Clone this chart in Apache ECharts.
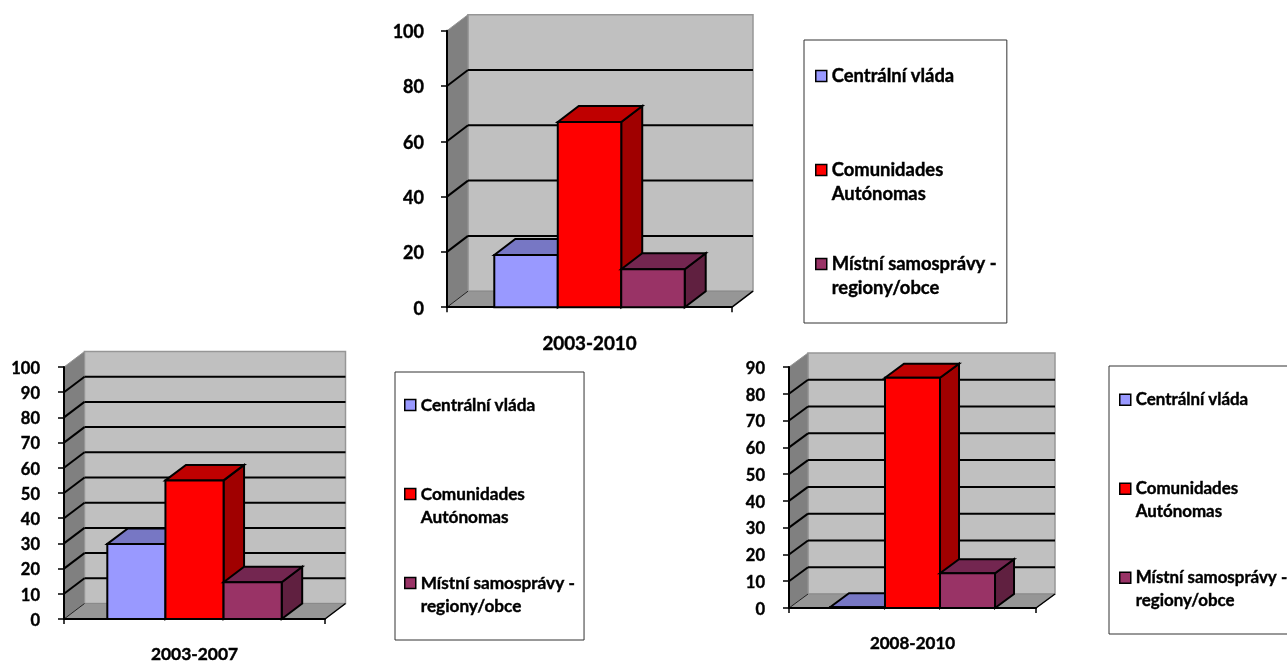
<!DOCTYPE html>
<html>
<head>
<meta charset="utf-8">
<style>
html, body { margin: 0; padding: 0; background: #fff; }
#main { width: 1287px; height: 661px; }
</style>
<script src="https://cdn.jsdelivr.net/npm/echarts@6/dist/echarts.min.js"></script>
</head>
<body>
<div id="main"></div>
<script>
const periods = ['2003-2010', '2003-2007', '2008-2010'];
const seriesNames = ['Centrální vláda', 'Comunidades Autónomas', 'Místní samosprávy - regiony/obce'];
const legendLines = {
    'Centrální vláda': ' \nCentrální vláda\n ',
    'Comunidades Autónomas': ' \nComunidades\nAutónomas',
    'Místní samosprávy - regiony/obce': ' \nMístní samosprávy -\nregiony/obce'
};
const centralValues = [18.9, 29.8, 0.3];
const autonomasValues = [67, 55, 86];
const localValues = [13.7, 14.6, 13];
const axisMax = [100, 100, 90];
const axisStep = [20, 10, 10];

const seriesValues = [centralValues, autonomasValues, localValues];
const frontColors = ['#9999ff', '#ff0000', '#993366'];
const topColors = ['#7777c4', '#bf0000', '#732650'];
const sideColors = ['#5c5c99', '#a00000', '#602040'];

// grid box, depth of the fake 3d and legend box for each small chart
const layouts = [
    { left: 447, top: 30.7, width: 285, height: 276.5, dx: 21, dy: 16, font: 18, catFont: 18.8, labelMargin: 23, catMargin: 27,
      legend: { left: 804, top: 40, padding: [0, 10, 23, 11], font: 18.4, lineHeight: 24, gap: 22 } },
    { left: 64, top: 367, width: 261, height: 252, dx: 20.5, dy: 15.5, font: 16.5, catFont: 17.4, labelMargin: 24, catMargin: 27,
      legend: { left: 395, top: 372, padding: [-1.5, 9, 22.5, 9], font: 17.2, lineHeight: 23, gap: 20 } },
    { left: 789, top: 367, width: 247, height: 241, dx: 19, dy: 14, font: 16.5, catFont: 17, labelMargin: 24, catMargin: 27,
      legend: { left: 1109, top: 366, padding: [0, 12, 22.5, 10], font: 16.9, lineHeight: 22.5, gap: 21.5 } }
];

const fontFamily = 'Lato, "Open Sans", sans-serif';
// Lato bold is lighter than the original face, thicken it a little
const boldText = { color: '#000', fontFamily: fontFamily, fontWeight: 'bold', textBorderColor: '#000', textBorderWidth: 0.4 };

function poly(points, fill, stroke, lineWidth) {
    return {
        type: 'polygon',
        shape: { points: points },
        style: { fill: fill, stroke: stroke || null, lineWidth: lineWidth || 0 }
    };
}

function seg(x1, y1, x2, y2, color, lineWidth) {
    return {
        type: 'line',
        shape: { x1: x1, y1: y1, x2: x2, y2: y2 },
        style: { stroke: color, lineWidth: lineWidth, fill: null }
    };
}

// side wall, floor, back wall and the gridlines running over them
function renderWalls(chartIndex) {
    const lay = layouts[chartIndex];
    return function (params, api) {
        const dx = lay.dx, dy = lay.dy;
        const x0 = api.coord([0, 0])[0] - api.size([1, 0])[0] / 2;
        const x1 = x0 + api.size([1, 0])[0];
        const y0 = api.coord([0, 0])[1];
        const yTop = api.coord([0, axisMax[chartIndex]])[1];
        const children = [
            poly([[x0 + dx, y0 - dy], [x1 + dx, y0 - dy], [x1 + dx, yTop - dy], [x0 + dx, yTop - dy]], '#c0c0c0', '#969696', 1.5),
            poly([[x0, y0], [x0 + dx, y0 - dy], [x0 + dx, yTop - dy], [x0, yTop]], '#808080', '#969696', 1),
            poly([[x0, y0], [x1, y0], [x1 + dx, y0 - dy], [x0 + dx, y0 - dy]], '#969696', '#8a8a8a', 1)
        ];
        for (let t = axisStep[chartIndex]; t < axisMax[chartIndex]; t += axisStep[chartIndex]) {
            const y = api.coord([0, t])[1];
            children.push(seg(x0, y, x0 + dx, y - dy, '#000', 2));
            children.push(seg(x0 + dx, y - dy, x1 + dx, y - dy, '#000', 2));
        }
        children.push(seg(x0, y0, x0 + dx, y0 - dy, '#222', 1));
        children.push(seg(x1, y0, x1 + dx, y0 - dy, '#000', 1.5));
        return { type: 'group', children: children };
    };
}

function renderBar(chartIndex, seriesIndex) {
    const lay = layouts[chartIndex];
    return function (params, api) {
        const band = api.size([1, 0])[0];
        const barW = band / 4.49;
        const base = api.coord([api.value(0), 0]);
        const tip = api.coord([api.value(0), api.value(1)]);
        const xa = base[0] - 1.5 * barW + seriesIndex * barW;
        const xb = xa + barW;
        const dx = lay.dx, dy = lay.dy;
        return {
            type: 'group',
            children: [
                poly([[xb, base[1]], [xb + dx, base[1] - dy], [xb + dx, tip[1] - dy], [xb, tip[1]]], sideColors[seriesIndex], '#000', 2),
                poly([[xa, tip[1]], [xa + dx, tip[1] - dy], [xb + dx, tip[1] - dy], [xb, tip[1]]], topColors[seriesIndex], '#000', 2),
                poly([[xa, base[1]], [xb, base[1]], [xb, tip[1]], [xa, tip[1]]], frontColors[seriesIndex], '#000', 2)
            ]
        };
    };
}

const grids = [], xAxes = [], yAxes = [], series = [], legends = [];

periods.forEach(function (period, c) {
    const lay = layouts[c];
    grids.push({ left: lay.left, top: lay.top, width: lay.width, height: lay.height, containLabel: false, outerBoundsMode: 'none' });
    xAxes.push({
        type: 'category',
        gridIndex: c,
        data: [period],
        z: 3,
        axisLine: { lineStyle: { color: '#000', width: 2 } },
        axisTick: { show: true, length: 5, lineStyle: { color: '#000', width: 1.5 } },
        axisLabel: Object.assign({}, boldText, { fontSize: lay.catFont, margin: lay.catMargin })
    });
    yAxes.push({
        type: 'value',
        gridIndex: c,
        min: 0,
        max: axisMax[c],
        interval: axisStep[c],
        z: 3,
        splitLine: { show: false },
        axisLine: { show: true, lineStyle: { color: '#000', width: 2 } },
        axisTick: { show: true, length: 6, lineStyle: { color: '#000', width: 1.5 } },
        // numbers sit a little under their ticks in the original
        axisLabel: Object.assign({}, boldText, { fontSize: lay.font, margin: lay.labelMargin, verticalAlign: 'top', lineHeight: 3 })
    });
    series.push({
        type: 'custom',
        name: 'walls',
        xAxisIndex: c,
        yAxisIndex: c,
        z: 1,
        silent: true,
        renderItem: renderWalls(c),
        data: [[period, 0]]
    });
    seriesNames.forEach(function (name, s) {
        series.push({
            type: 'custom',
            name: name,
            xAxisIndex: c,
            yAxisIndex: c,
            z: 4,
            itemStyle: { color: frontColors[s] },
            renderItem: renderBar(c, s),
            encode: { x: 0, y: 1 },
            data: [[period, seriesValues[s][c]]]
        });
    });
    legends.push({
        orient: 'vertical',
        left: lay.legend.left,
        top: lay.legend.top,
        padding: lay.legend.padding,
        itemGap: lay.legend.gap,
        itemWidth: 11,
        itemHeight: 11,
        icon: 'rect',
        selectedMode: false,
        backgroundColor: '#fff',
        borderColor: '#333',
        borderWidth: 1,
        itemStyle: { borderColor: '#000', borderWidth: 1.5 },
        data: seriesNames,
        formatter: function (name) { return legendLines[name]; },
        textStyle: Object.assign({}, boldText, { fontSize: lay.legend.font, lineHeight: lay.legend.lineHeight })
    });
});

const chart = echarts.init(document.getElementById('main'));
chart.setOption({
    backgroundColor: '#fff',
    animation: false,
    grid: grids,
    xAxis: xAxes,
    yAxis: yAxes,
    legend: legends,
    series: series
});
</script>
</body>
</html>
